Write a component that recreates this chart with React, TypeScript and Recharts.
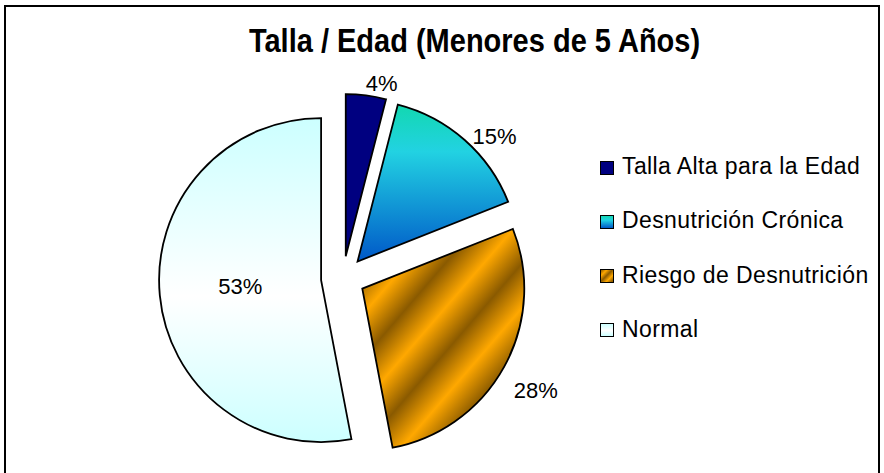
import React from "react";
import { PieChart, Pie, Cell, Legend } from "recharts";

const TITLE = "Talla / Edad (Menores de 5 Años)";
const CATEGORIES = [
  "Talla Alta para la Edad",
  "Desnutrición Crónica",
  "Riesgo de Desnutrición",
  "Normal",
];
const PERCENTS = [4, 15, 28, 53];

const data = CATEGORIES.map((name, i) => ({ name, value: PERCENTS[i] }));

// pie geometry (excel style exploded pie)
const CX = 343;
const CY = 278;
const R = 162;
const EXPLODE = 22;

const FILLS = ["#000080", "url(#gCyan)", "url(#gGold)", "url(#gNormal)"];
const LEGEND_FILLS = [
  "#000080",
  "linear-gradient(180deg, #14d8b4 0%, #22d2e2 35%, #0058c8 100%)",
  "repeating-linear-gradient(135deg, #8a5a00 0px, #ffa800 4px, #8a5a00 8px)",
  "linear-gradient(180deg, #ccffff 0%, #ffffff 55%, #ccffff 100%)",
];

// label radius from slice vertex + small angle shift (deg)
const LABEL_PLACE = [
  { r: 177, shift: 4.5 },
  { r: 186, shift: 6 },
  { r: 201, shift: 1.5 },
  { r: 81, shift: 1.2 },
];

const total = PERCENTS.reduce((a, b) => a + b, 0);
const MIDS = PERCENTS.map((v, i) => {
  const before = PERCENTS.slice(0, i).reduce((a, b) => a + b, 0);
  return ((before + v / 2) / total) * 360;
});
const rad = (d: number) => (d * Math.PI) / 180;
const vertex = (i: number) => ({
  x: CX + EXPLODE * Math.sin(rad(MIDS[i])),
  y: CY - EXPLODE * Math.cos(rad(MIDS[i])),
});

const FONT = "'Liberation Sans', Arial, Helvetica, sans-serif";

const makeLabel = (k: number) => (props: any) => {
  if (props.index !== k) return null;
  const v = vertex(k);
  const a = rad(MIDS[k] + LABEL_PLACE[k].shift);
  const r = LABEL_PLACE[k].r;
  return (
    <text
      x={v.x + r * Math.sin(a)}
      y={v.y - r * Math.cos(a)}
      dy={8}
      textAnchor="middle"
      fontSize={22}
      fontFamily={FONT}
      fill="#000"
    >
      {`${PERCENTS[k]}%`}
    </text>
  );
};

const renderLegend = () => (
  <div style={{ fontFamily: FONT, fontSize: 23, letterSpacing: 0.4, color: "#000" }}>
    {CATEGORIES.map((c, i) => (
      <div
        key={c}
        style={{ display: "flex", alignItems: "center", height: 23, lineHeight: "23px", marginBottom: 31.3 }}
      >
        <span
          style={{
            display: "inline-block",
            width: 12,
            height: 12,
            border: "1px solid #000",
            background: LEGEND_FILLS[i],
            marginRight: 8,
            marginTop: 2,
          }}
        />
        <span>{c}</span>
      </div>
    ))}
  </div>
);

export default function App() {
  return (
    <div
      style={{
        position: "absolute",
        left: 0,
        top: 0,
        width: 884,
        height: 473,
        overflow: "hidden",
        background: "#fff",
      }}
    >
      <div
        style={{
          position: "absolute",
          left: 4,
          top: 5,
          width: 876,
          height: 520,
          border: "2px solid #000",
          boxSizing: "border-box",
        }}
      />
      <PieChart
        width={884}
        height={473}
        margin={{ top: 0, right: 0, bottom: 0, left: 0 }}
        style={{ position: "absolute", left: 0, top: 0 }}
      >
        <defs>
          <linearGradient id="gCyan" x1="0" y1="0" x2="0" y2="1">
            <stop offset="0%" stopColor="#12d8b0" />
            <stop offset="30%" stopColor="#22d2e2" />
            <stop offset="100%" stopColor="#0058c8" />
          </linearGradient>
          <linearGradient
            id="gGold"
            gradientUnits="userSpaceOnUse"
            x1={380}
            y1={250}
            x2={402}
            y2={269}
            spreadMethod="reflect"
          >
            <stop offset="0%" stopColor="#8a5a00" />
            <stop offset="100%" stopColor="#ffa800" />
          </linearGradient>
          <linearGradient id="gNormal" x1="0" y1="0" x2="0" y2="1">
            <stop offset="0%" stopColor="#ccffff" />
            <stop offset="55%" stopColor="#ffffff" />
            <stop offset="100%" stopColor="#ccffff" />
          </linearGradient>
        </defs>
        <text
          transform="translate(474.5 52) scale(1 1.15)"
          textAnchor="middle"
          fontSize={29}
          fontWeight="bold"
          fontFamily={FONT}
          fill="#000"
        >
          {TITLE}
        </text>
        {PERCENTS.map((_, k) => {
          const v = vertex(k);
          return (
            <Pie
              key={k}
              data={data}
              dataKey="value"
              nameKey="name"
              cx={v.x}
              cy={v.y}
              outerRadius={R}
              startAngle={90}
              endAngle={-270}
              isAnimationActive={false}
              labelLine={false}
              label={makeLabel(k)}
            >
              {data.map((d, i) => (
                <Cell
                  key={d.name}
                  fill={i === k ? FILLS[i] : "none"}
                  stroke={i === k ? "#000" : "none"}
                  strokeWidth={1.8}
                />
              ))}
            </Pie>
          );
        })}
        <Legend
          layout="vertical"
          align="right"
          verticalAlign="top"
          content={renderLegend}
          wrapperStyle={{ position: "absolute", left: 600, top: 155, width: 280 }}
        />
      </PieChart>
    </div>
  );
}
